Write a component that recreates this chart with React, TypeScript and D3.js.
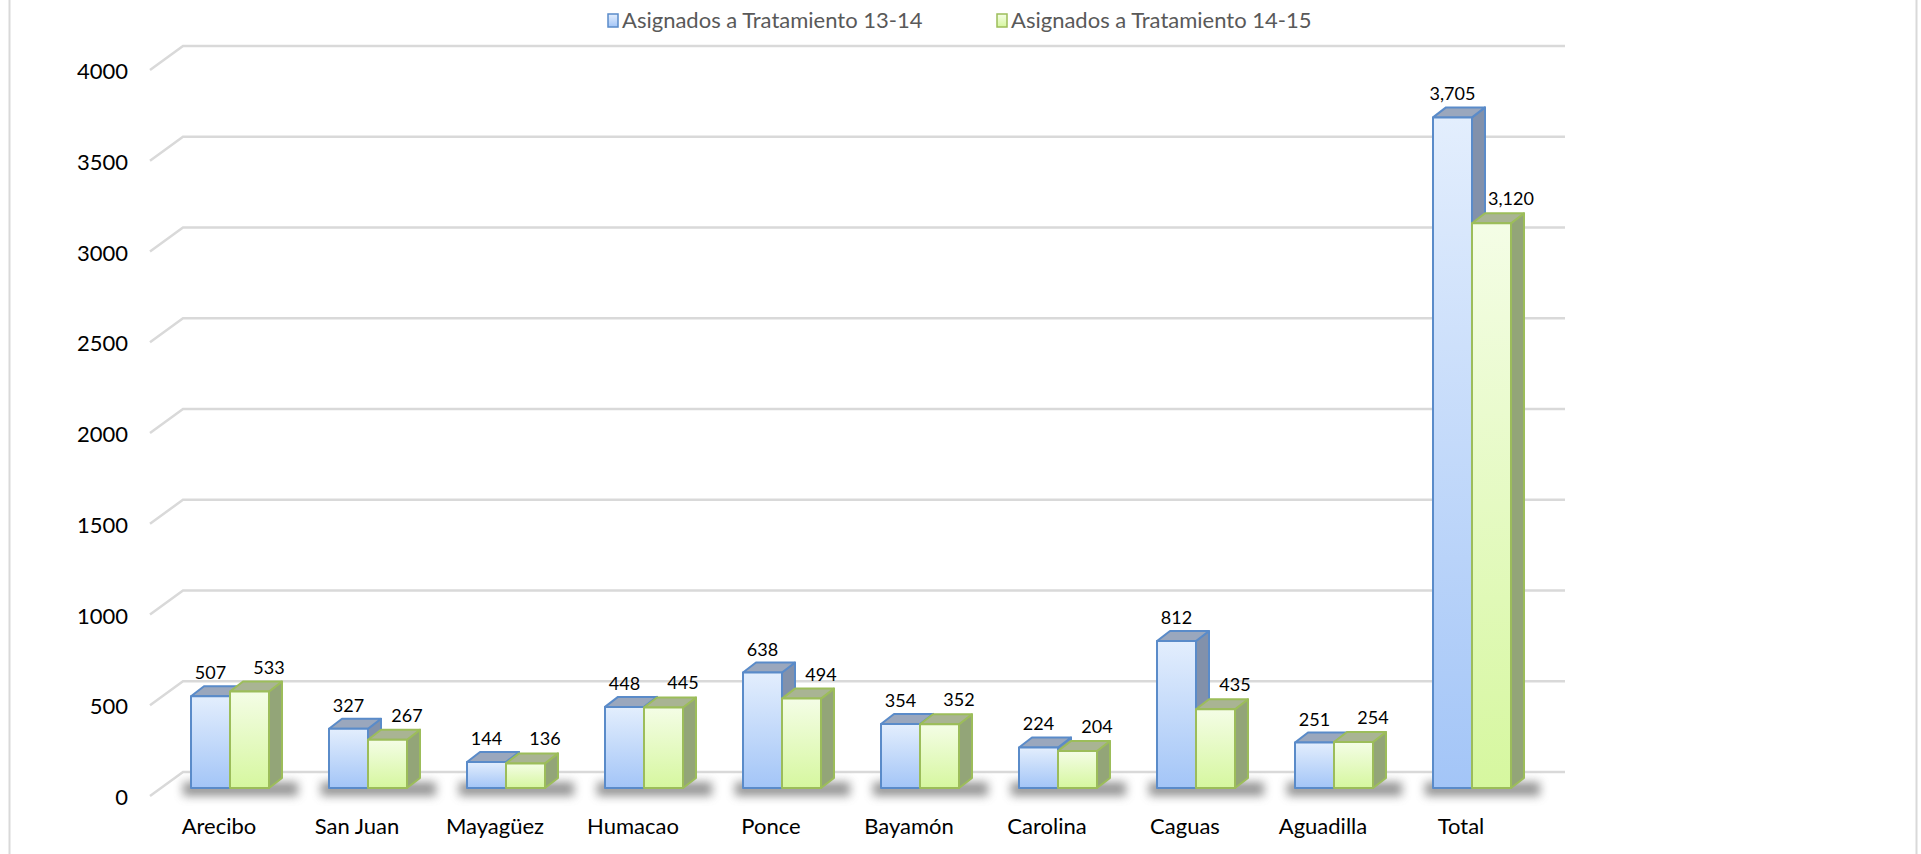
import React, { useEffect, useRef } from "react";
import * as d3 from "d3";

const categories = [
  "Arecibo",
  "San Juan",
  "Mayagüez",
  "Humacao",
  "Ponce",
  "Bayamón",
  "Carolina",
  "Caguas",
  "Aguadilla",
  "Total",
];
const seriesNames = ["Asignados a Tratamiento 13-14", "Asignados a Tratamiento 14-15"];
const values1314 = [507, 327, 144, 448, 638, 354, 224, 812, 251, 3705];
const values1415 = [533, 267, 136, 445, 494, 352, 204, 435, 254, 3120];
const yTicks = [0, 500, 1000, 1500, 2000, 2500, 3000, 3500, 4000];

const W = 1921;
const H = 854;

const App = () => {
  const svgRef = useRef<SVGSVGElement>(null);

  useEffect(() => {
    const svg = d3.select(svgRef.current);
    svg.selectAll("*").remove();

    const font = "Lato, 'Open Sans', sans-serif";
    // 3d geometry
    const wallFrontX = 150;
    const wallBackX = 183;
    const wallBackEnd = 1565;
    const wallDy = 24;
    const barDx = 13;
    const barDy = -10;

    const yBack = d3.scaleLinear().domain([0, 4000]).range([772, 46]);
    const yBar = d3.scaleLinear().domain([0, 4000]).range([788, 64]);

    const x = d3.scaleBand<string>().domain(categories).range([161, 1541]).padding(0);
    const inner = d3.scaleBand<number>().domain([0, 1]).range([0, 78]);
    const pairLeft = (c: string) => (x(c) as number) + x.bandwidth() / 2 - 39;

    const defs = svg.append("defs");
    const grad = (id: string, top: string, bottom: string) => {
      const g = defs
        .append("linearGradient")
        .attr("id", id)
        .attr("x1", 0)
        .attr("y1", 0)
        .attr("x2", 0)
        .attr("y2", 1);
      g.append("stop").attr("offset", "0%").attr("stop-color", top);
      g.append("stop").attr("offset", "100%").attr("stop-color", bottom);
    };
    grad("gBlue", "#e3eefd", "#a3c5f7");
    grad("gGreen", "#f4fde6", "#d6f79f");
    defs
      .append("filter")
      .attr("id", "blur")
      .attr("x", "-20%")
      .attr("y", "-100%")
      .attr("width", "140%")
      .attr("height", "300%")
      .append("feGaussianBlur")
      .attr("stdDeviation", 5);

    const styles = [
      { fill: "url(#gBlue)", stroke: "#5a8bc9", top: "#9aa7bd", side: "#8291ab" },
      { fill: "url(#gGreen)", stroke: "#9cbd5a", top: "#a9b493", side: "#93a578" },
    ];

    // frame
    svg
      .append("rect")
      .attr("x", 9.5)
      .attr("y", -5)
      .attr("width", 1907)
      .attr("height", H + 10)
      .attr("fill", "#fff")
      .attr("stroke", "#d9d9d9")
      .attr("stroke-width", 2);

    // gridlines (back wall + left wall)
    const grid = svg.append("g").attr("stroke", "#d9d9d9").attr("stroke-width", 2.5).attr("fill", "none");
    yTicks.forEach((t) => {
      grid
        .append("path")
        .attr(
          "d",
          `M${wallFrontX},${yBack(t) + wallDy}L${wallBackX},${yBack(t)}L${wallBackEnd},${yBack(t)}`
        );
    });

    // y labels
    svg
      .append("g")
      .selectAll("text")
      .data(yTicks)
      .enter()
      .append("text")
      .attr("x", 128)
      .attr("y", (d) => yBack(d) + wallDy + 9)
      .attr("text-anchor", "end")
      .attr("font-family", font)
      .attr("font-size", 22)
      .attr("fill", "#000")
      .text((d) => d);

    // shadows
    svg
      .append("g")
      .selectAll("rect")
      .data(categories)
      .enter()
      .append("rect")
      .attr("x", (c) => pairLeft(c) - 8)
      .attr("y", 782)
      .attr("width", 78 + barDx + 24)
      .attr("height", 14)
      .attr("fill", "#6b6b6b")
      .attr("opacity", 0.7)
      .attr("filter", "url(#blur)");

    // bars
    const barsG = svg.append("g");
    categories.forEach((c, i) => {
      const vals = [values1314[i], values1415[i]];
      vals.forEach((v, s) => {
        const x0 = pairLeft(c) + (inner(s) as number);
        const x1 = x0 + inner.bandwidth();
        const y0 = yBar(v);
        const yb = yBar(0);
        const st = styles[s];
        const g = barsG.append("g").attr("stroke", st.stroke).attr("stroke-width", 2).attr("stroke-linejoin", "round");
        g.append("path")
          .attr("d", `M${x1},${y0}L${x1 + barDx},${y0 + barDy}L${x1 + barDx},${yb + barDy}L${x1},${yb}Z`)
          .attr("fill", st.side);
        g.append("path")
          .attr("d", `M${x0},${y0}L${x0 + barDx},${y0 + barDy}L${x1 + barDx},${y0 + barDy}L${x1},${y0}Z`)
          .attr("fill", st.top);
        g.append("rect")
          .attr("x", x0)
          .attr("y", y0)
          .attr("width", x1 - x0)
          .attr("height", yb - y0)
          .attr("fill", st.fill);
      });
    });

    // value labels
    const fmt = d3.format(",");
    const labels = svg.append("g").attr("font-family", font).attr("font-size", 18).attr("fill", "#000").attr("text-anchor", "middle");
    categories.forEach((c, i) => {
      const bx = pairLeft(c);
      labels
        .append("text")
        .attr("x", bx + inner.bandwidth() / 2)
        .attr("y", yBar(values1314[i]) - 17)
        .text(fmt(values1314[i]));
      labels
        .append("text")
        .attr("x", bx + 78)
        .attr("y", yBar(values1415[i]) - 18)
        .text(fmt(values1415[i]));
    });

    // category labels
    svg
      .append("g")
      .selectAll("text")
      .data(categories)
      .enter()
      .append("text")
      .attr("x", (c) => (x(c) as number) + x.bandwidth() / 2 - 11)
      .attr("y", 834)
      .attr("text-anchor", "middle")
      .attr("font-family", font)
      .attr("font-size", 22)
      .attr("fill", "#000")
      .text((c) => c);

    // legend
    const legendX = [608, 997];
    const legend = svg.append("g");
    seriesNames.forEach((name, s) => {
      const lg = legend.append("g").attr("transform", `translate(${legendX[s]},14)`);
      lg.append("rect")
        .attr("x", 0)
        .attr("y", 0)
        .attr("width", 10)
        .attr("height", 13)
        .attr("fill", styles[s].fill)
        .attr("stroke", styles[s].stroke)
        .attr("stroke-width", 1.5);
      lg.append("text")
        .attr("x", 14)
        .attr("y", 14)
        .attr("font-family", font)
        .attr("font-size", 22)
        .attr("fill", "#595959")
        .text(name);
    });
  }, []);

  return (
    <div style={{ position: "fixed", left: 0, top: 0, width: W, height: H, overflow: "hidden" }}>
      <svg ref={svgRef} width={W} height={H} style={{ display: "block" }} />
    </div>
  );
};

export default App;
